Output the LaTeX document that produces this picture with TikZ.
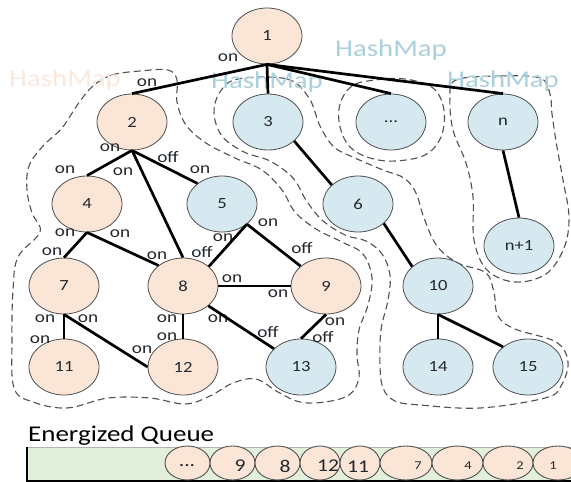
\documentclass[tikz,border=0pt]{standalone}
\usepackage{fontspec}
\setmainfont[FakeStretch=1.2]{Carlito}
\usetikzlibrary{shapes.geometric}

\definecolor{peach}{RGB}{251,229,214}
\definecolor{paleblue}{RGB}{214,232,240}
\definecolor{rim}{RGB}{80,80,80}
\definecolor{ink}{RGB}{35,40,45}
\definecolor{hashpeach}{RGB}{250,232,220}
\definecolor{hashblue}{RGB}{170,208,220}
\definecolor{queuegreen}{RGB}{226,239,218}

\begin{document}
\begin{tikzpicture}[x=1pt,y=-1pt,
  vert/.style={ellipse, draw=rim, line width=0.8pt, minimum width=70pt,
    minimum height=56pt, inner sep=0pt,
    font=\fontsize{15.5}{16}\selectfont, text=ink},
  hot/.style={vert, fill=peach},
  cold/.style={vert, fill=paleblue},
  wire/.style={line width=2.7pt},
  lbl/.style={font=\fontsize{16}{16}\selectfont, text=ink, inner sep=0pt},
  zone/.style={draw=rim, dash pattern=on 7pt off 4pt, line width=1.1pt},
  hashtag/.style={font=\fontsize{24}{24}\selectfont, inner sep=0pt},
  qcell/.style={ellipse, draw=rim, fill=peach, line width=0.9pt,
    inner sep=0pt, minimum height=34pt},
  qbig/.style={font=\fontsize{18}{18}\selectfont, text=ink, inner sep=0pt},
  qsmall/.style={font=\fontsize{12}{12}\selectfont, text=ink, inner sep=0pt}
]
\useasboundingbox (0,0) rectangle (571,482);
\clip (0,0) rectangle (571,482);

% hash map regions
\draw[zone] plot[smooth cycle, tension=0.6] coordinates {
  (93,86) (112,75) (140,71) (168,70) (177,80) (177,102) (186,125) (206,143)
  (235,158) (262,170) (282,190) (295,212) (316,229) (342,242) (363,254)
  (372,278) (368,305) (359,330) (357,355) (359,378) (349,395) (325,402)
  (300,402) (278,392) (256,379) (233,383) (210,396) (185,404) (150,398)
  (108,398) (67,408) (33,402) (14,388) (12,340) (13,290) (18,257) (40,232)
  (32,213) (27,190) (29,166) (43,146) (62,128) (78,104)};
\draw[zone] plot[smooth cycle, tension=0.6] coordinates {
  (238,79) (287,79) (309,98) (320,126) (334,147) (355,158) (383,170)
  (404,178) (416,193) (424,218) (437,246) (458,263) (486,273) (494,293)
  (498,316) (515,329) (556,342) (568,362) (561,386) (545,398) (480,408)
  (420,405) (395,401) (383,388) (380,365) (381,330) (388,300) (390,275)
  (382,254) (366,241) (345,235) (322,220) (306,200) (293,178) (270,161)
  (244,152) (222,136) (214,113) (220,92)};
\draw[zone] plot[smooth cycle, tension=0.6] coordinates {
  (352,86) (340,104) (340,127) (350,147) (370,158) (395,161) (425,155)
  (441,137) (444,110) (433,88) (405,79) (375,80)};
\draw[zone] plot[smooth cycle, tension=0.6] coordinates {
  (456,80) (500,76) (540,78) (550,94) (552,114) (557,147) (563,180)
  (569,217) (564,248) (546,274) (515,282) (487,270) (474,240) (473,197)
  (466,163) (453,130) (450,98)};

% region captions
\node[hashtag, text=hashpeach] (hmA) at (65,80) {HashMap};
\node[hashtag, text=hashblue] (hmB) at (267,82) {HashMap};
\node[hashtag, text=hashblue] (hmC) at (391,50) {HashMap};
\node[hashtag, text=hashblue] (hmD) at (503,81) {HashMap};

% vertices
\node[hot]  (n1)  at (267,36)  {1};
\node[hot]  (n2)  at (132,122) {2};
\node[cold] (n3)  at (268,122) {3};
\node[cold] (ndots) at (391,122) {...};
\node[cold] (nn)  at (503,122) {n};
\node[hot]  (n4)  at (87,204)  {4};
\node[cold] (n5)  at (222,204) {5};
\node[cold] (n6)  at (358,204) {6};
\node[cold] (nn1) at (519,246) {n+1};
\node[hot]  (n7)  at (64,286)  {7};
\node[hot]  (n8)  at (183,286) {8};
\node[hot]  (n9)  at (326,286) {9};
\node[cold] (n10) at (438,286) {10};
\node[hot]  (n11) at (64,367)  {11};
\node[hot]  (n12) at (183,367) {12};
\node[cold] (n13) at (301,367) {13};
\node[cold] (n14) at (438,367) {14};
\node[cold] (n15) at (528,367) {15};

% switch states
\node[lbl] (s1)  at (228,58)  {on};
\node[lbl] (s2)  at (147,83)  {on};
\node[lbl] (s3)  at (110,148) {on};
\node[lbl] (s4)  at (65,170)  {on};
\node[lbl] (s5)  at (123,172) {on};
\node[lbl] (s6)  at (168,157) {off};
\node[lbl] (s7)  at (200,170) {on};
\node[lbl] (s8)  at (65,233)  {on};
\node[lbl] (s9)  at (120,234) {on};
\node[lbl] (s10) at (52,252)  {on};
\node[lbl] (s11) at (157,256) {on};
\node[lbl] (s12) at (202,252) {off};
\node[lbl] (s13) at (223,238) {on};
\node[lbl] (s14) at (268,223) {on};
\node[lbl] (s15) at (302,248) {off};
\node[lbl] (s16) at (232,279) {on};
\node[lbl] (s17) at (278,294) {on};
\node[lbl] (s18) at (45,319)  {on};
\node[lbl] (s19) at (88,319)  {on};
\node[lbl] (s20) at (40,340)  {on};
\node[lbl] (s21) at (142,350) {on};
\node[lbl] (s22) at (167,319) {on};
\node[lbl] (s23) at (167,337) {on};
\node[lbl] (s24) at (218,319) {on};
\node[lbl] (s25) at (268,332) {off};
\node[lbl] (s26) at (335,322) {on};
\node[lbl] (s27) at (323,337) {off};

% connections
\draw[wire] (n1.south) -- (n2.north);
\draw[wire] (n1.south) -- (n3.north);
\draw[wire] (n1.south) -- (ndots.north);
\draw[wire] (n1.south) -- (nn.north);
\draw[wire] (n2.south) -- (n4.north);
\draw[wire] (n2.south) -- (n8.north);
\draw[wire] (n2.south) -- (n5.140);
\draw[wire] (n4.south) -- (n7.north);
\draw[wire] (n4.south) -- (n8.140);
\draw[wire] (n5.-39) -- (n8.37);
\draw[wire] (n5.-39) -- (n9.142);
\draw[wire] (n8.east) -- (n9.west);
\draw[wire] (n7.south) -- (n11.north);
\draw[wire] (n7.south) -- (n12.west);
\draw[wire] (n8.south) -- (n12.north);
\draw[wire] (n8.-38) -- (n13.146);
\draw[wire] (n9.south) -- (n13.north);
\draw[wire] (n3.-36) -- (n6.144);
\draw[wire] (n6.-37) -- (n10.143);
\draw[wire] (n10.south) -- (n14.north);
\draw[wire] (n10.south) -- (n15.141);
\draw[wire] (nn.south) -- (nn1.north);

% energized queue
\node[anchor=base west, font=\fontsize{22.5}{23}\selectfont, text=black,
  inner sep=0pt] (qtitle) at (28,441) {Energized Queue};
\fill[queuegreen] (27,447) rectangle (571,481);
\draw[gray!60, line width=0.6pt] (27,447) -- (571,447);
\draw[black, line width=1.6pt] (27,447) -- (27,481) -- (571,481);

\node[qcell, minimum width=45pt] (q1) at (187.5,463) {};
\node[qcell, minimum width=45pt] (q2) at (232.5,463) {};
\node[qcell, minimum width=45pt] (q3) at (277.5,463) {};
\node[qcell, minimum width=40pt] (q4) at (320,463) {};
\node[qcell, minimum width=40pt] (q5) at (360,463) {};
\node[qcell, minimum width=52pt] (q6) at (406,463) {};
\node[qcell, minimum width=51pt] (q7) at (457.5,463) {};
\node[qcell, minimum width=50pt] (q8) at (508,463) {};
\node[qcell, minimum width=50pt] (q9) at (558,463) {};

\node[qbig]   (t1) at (187,466) {...};
\node[qbig]   (t2) at (240,466) {9};
\node[qbig]   (t3) at (285,466) {8};
\node[qbig]   (t4) at (328,466) {12};
\node[qbig]   (t5) at (358,467) {11};
\node[qsmall] (t6) at (418,466) {7};
\node[qsmall] (t7) at (468,466) {4};
\node[qsmall] (t8) at (520,466) {2};
\node[qsmall] (t9) at (553,466) {1};
\end{tikzpicture}
\end{document}
